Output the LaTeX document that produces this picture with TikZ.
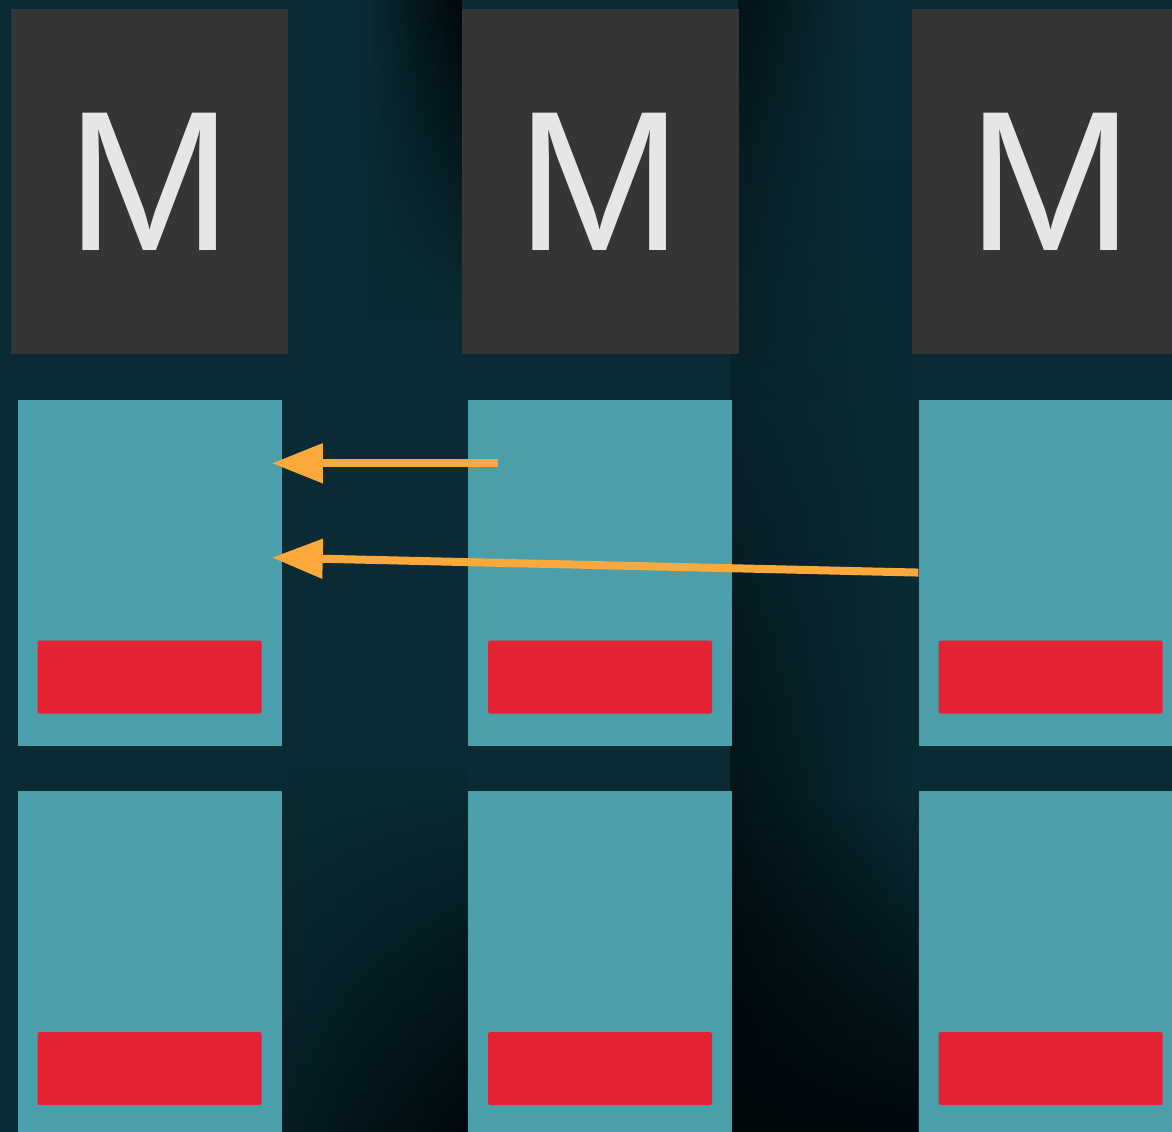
\documentclass[tikz,border=0pt]{standalone}
\usepackage{fontspec}
\setmainfont{Liberation Sans}
\usetikzlibrary{arrows.meta,positioning,fadings}
\definecolor{sea}{HTML}{0A2B33}
\definecolor{abyss}{HTML}{00080C}
\definecolor{slate}{HTML}{353535}
\definecolor{chalk}{HTML}{E6E6E6}
\definecolor{lagoon}{HTML}{4A9FAB}
\definecolor{alarm}{HTML}{E52233}
\definecolor{amber}{HTML}{FBA93D}
\tikzfading[name=risedark,top color=transparent!100,bottom color=transparent!0]
\tikzfading[name=sinkdark,top color=transparent!0,bottom color=transparent!100]

\begin{document}
\begin{tikzpicture}[
  mbox/.style={fill=slate,text=chalk,inner sep=0pt,minimum width=6.925cm,minimum height=8.625cm,font=\fontsize{142}{142}\selectfont},
  slot/.style={fill=lagoon,inner sep=0pt,minimum width=6.6cm,minimum height=8.65cm},
  flag/.style={fill=alarm,rounded corners=1.5pt,inner sep=0pt,minimum width=5.6cm,minimum height=1.825cm},
  pull/.style={-{Triangle[length=1.275cm,width=0.95cm]},line width=0.2cm,amber}
]
  \useasboundingbox (0,0) rectangle (29.3,-28.3);
  \clip (0,0) rectangle (29.3,-28.3);
  \fill[sea] (0,0) rectangle (29.3,-28.3);

  % dark streaks behind the columns
  \shade[left color=abyss,right color=sea,path fading=risedark] (18.25,-4) rectangle (22.95,-28.3);
  \shade[left color=abyss,right color=sea,path fading=sinkdark,opacity=.7] (18.45,0) rectangle (21.5,-10);
  \fill[abyss,path fading=risedark] (18.25,-20) rectangle (22.95,-28.3);
  \shade[left color=sea,right color=abyss,path fading=sinkdark] (9,0) rectangle (11.55,-8);
  \shade[left color=sea!60!abyss,right color=abyss,path fading=risedark] (7.05,-19) rectangle (11.7,-28.3);

  \node[mbox] (m1) at (3.7375,-4.5375) {M};
  \node[mbox,right=4.325cm of m1] (m2) {M};
  \node[mbox,right=4.325cm of m2] (m3) {M};

  \node[slot,below=1.125cm of m1] (a1) {};
  \node[slot,below=1.125cm of m2] (a2) {};
  \node[slot,below=1.125cm of m3] (a3) {};
  \node[slot,below=1.125cm of a1] (b1) {};
  \node[slot,below=1.125cm of a2] (b2) {};
  \node[slot,below=1.125cm of a3] (b3) {};

  \node[flag,above=0.8cm of a1.south] (fa1) {};
  \node[flag,above=0.8cm of a2.south] (fa2) {};
  \node[flag,above=0.8cm of a3.south] (fa3) {};
  \node[flag,above=0.8cm of b1.south] (fb1) {};
  \node[flag,above=0.8cm of b2.south] (fb2) {};
  \node[flag,above=0.8cm of b3.south] (fb3) {};

  \coordinate (tipA) at ([xshift=-0.25cm,yshift=-1.6cm]a1.north east);
  \coordinate (tailA) at ([xshift=0.75cm,yshift=-1.6cm]a2.north west);
  \coordinate (tipB) at ([xshift=-0.25cm,yshift=0.375cm]a1.east);
  \draw[pull] (tailA) -- (tipA);
  \draw[pull] (a3.west) -- (tipB);
\end{tikzpicture}
\end{document}
